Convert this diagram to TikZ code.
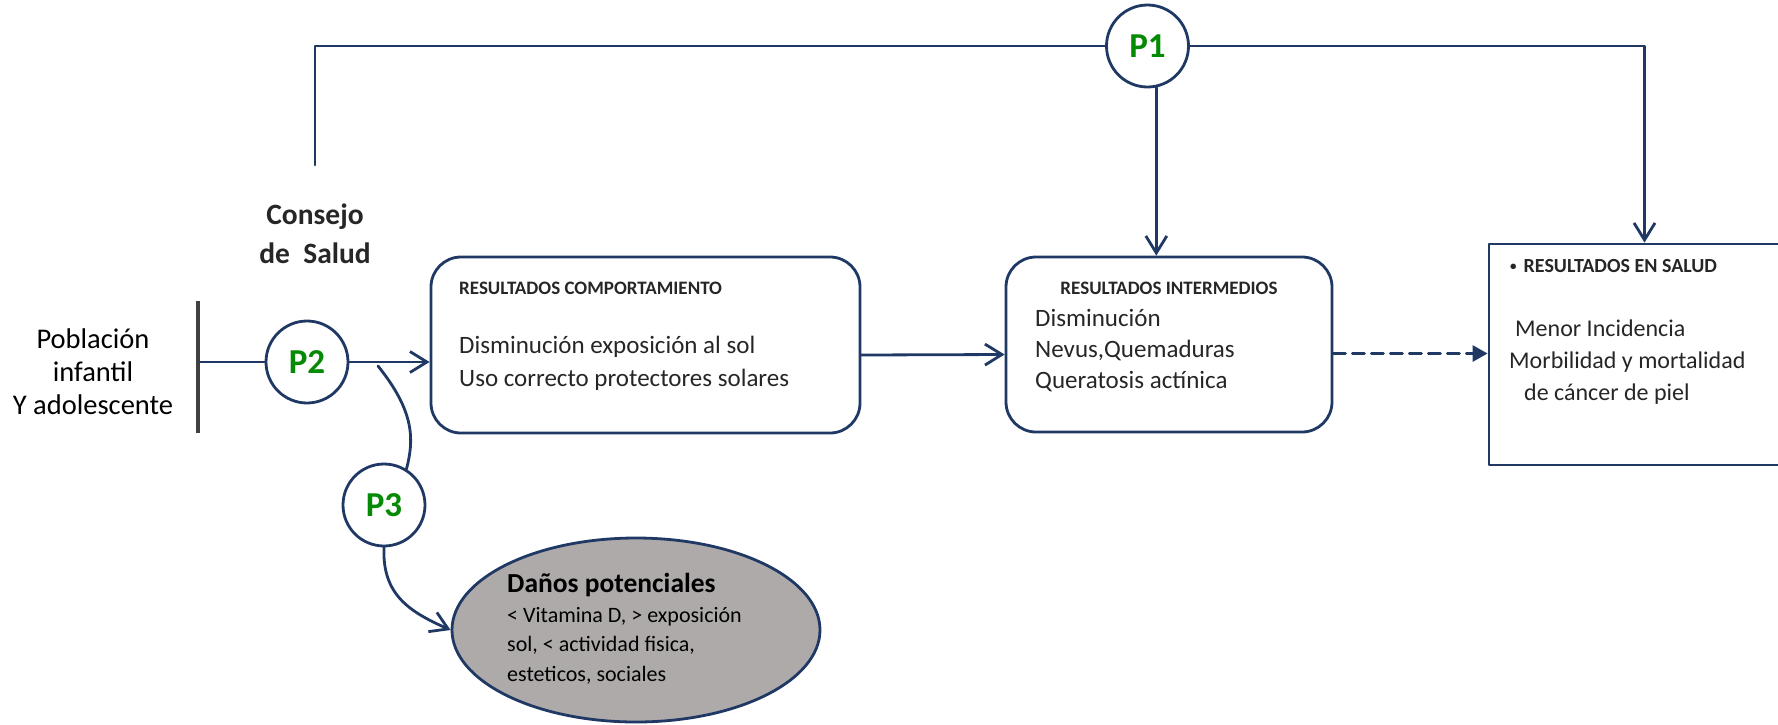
\documentclass[tikz,border=0pt]{standalone}
\usepackage{fontspec}
\setmainfont{Carlito}
\usetikzlibrary{arrows.meta,shapes.geometric}
\definecolor{azul}{HTML}{203864}
\definecolor{verde}{HTML}{058A05}
\definecolor{gris}{HTML}{AEAAAA}
\definecolor{texto}{HTML}{262626}
\definecolor{barragris}{HTML}{404040}
\begin{document}
\begin{tikzpicture}[x=1pt,y=-1pt, line join=round, line cap=round,
	linea/.style={draw=azul, line width=2.8pt},
	punta/.style={-{Straight Barb[length=17pt,width=21pt]}},
	pnodo/.style={circle, draw=azul, line width=2.8pt, minimum size=82pt, inner sep=0pt, text=verde, font=\fontsize{35}{40}\selectfont\bfseries},
	caja/.style={draw=azul, line width=2.8pt, rounded corners=30pt, inner sep=0pt},
	titulo/.style={anchor=base west, inner sep=0pt, text=texto, font=\fontsize{19}{23}\selectfont\bfseries},
	cuerpo/.style={anchor=base west, inner sep=0pt, text=texto, align=left}]
	\useasboundingbox (0,0) rectangle (1778,724);
	% cajas y circulos
	\node (P1) [pnodo] at (1147.5,46) {P1};
	\node (P2) [pnodo] at (307,362) {P2};
	\node (P3) [pnodo] at (384,505) {P3};
	\node (barra) [fill=barragris, minimum width=3.5pt, minimum height=132pt, inner sep=0pt] at (198,367) {};
	\node (comport) [caja, minimum width=429pt, minimum height=176pt] at (645.5,345) {};
	\node (interm) [caja, minimum width=326pt, minimum height=175pt] at (1169,344.5) {};
	\node (salud) [draw=azul, line width=2.8pt, minimum width=311pt, minimum height=221pt, inner sep=0pt] at (1644.5,354.5) {};
	\node (danos) [ellipse, draw=azul, fill=gris, line width=2.8pt, minimum width=368pt, minimum height=184pt, inner sep=0pt] at (636,630) {};
	% textos (base = ultima linea)
	\node (consejo) [anchor=base, inner sep=0pt, text=texto, align=center, font=\fontsize{29.5}{39}\selectfont\bfseries] at (315,263) {Consejo\\de\ \ Salud};
	\node (poblacion) [anchor=base, inner sep=0pt, text=black, align=center, font=\fontsize{28.5}{33}\selectfont] at (93,414) {Población\\infantil\\Y adolescente};
	\node (tcomp) [titulo] at (459,294) {RESULTADOS COMPORTAMIENTO};
	\node (ccomp) [cuerpo, font=\fontsize{25}{33}\selectfont] at (459,386) {Disminución exposición al sol\\Uso correcto protectores solares};
	\node (tint) [titulo, anchor=base] at (1169,294) {RESULTADOS INTERMEDIOS};
	\node (cint) [cuerpo, font=\fontsize{25}{31}\selectfont] at (1035,388) {Disminución\\Nevus,Quemaduras\\Queratosis actínica};
	\node (tsal) [titulo, font=\fontsize{20}{24}\selectfont\bfseries] at (1510,272) {\raisebox{1.5pt}{\fontsize{13}{13}\selectfont•}\hspace{7pt}RESULTADOS EN SALUD};
	\node (csal) [cuerpo, font=\fontsize{24}{32}\selectfont] at (1509,400) {\hspace*{6pt}Menor Incidencia\\Morbilidad y mortalidad\\\hspace*{15pt}de cáncer de piel};
	\node (tdan) [cuerpo, font=\fontsize{27.5}{30}\selectfont\bfseries, text=black] at (507,592) {Daños potenciales};
	\node (cdan) [cuerpo, font=\fontsize{22}{29.5}\selectfont, text=black] at (507,681) {< Vitamina D, > exposición\\sol, < actividad fisica,\\esteticos, sociales};
	% conectores
	\coordinate (cs) at (315,165);
	\coordinate (rama) at (378,366);
	\draw[linea] (cs) |- (P1.west);
	\draw[linea,punta] (P1.east) -| (salud.north);
	\draw[linea,punta] (P1.-78) -- (P1.-78 |- interm.north);
	\draw[linea] (barra.east |- P2.west) -- (P2.west);
	\draw[linea,punta] (P2.east) -- (P2.east -| comport.west);
	\draw[linea,punta] ([yshift=-10pt]comport.east) -- ([yshift=-10pt]interm.west);
	\draw[linea, dash pattern=on 12pt off 7pt, -{Triangle[length=15pt,width=16pt]}] ([yshift=-9pt]interm.east) -- ([yshift=-9pt]interm.east -| salud.west);
	\draw[linea] (rama) .. controls (415,412) and (414,440) .. (P3.58);
	\draw[linea,punta] (P3.south) .. controls (382,595) and (410,612) .. (danos.west);
\end{tikzpicture}
\end{document}
